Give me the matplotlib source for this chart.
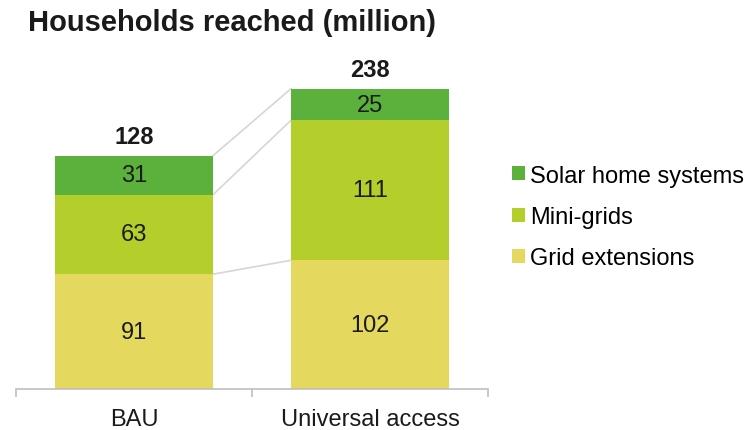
import numpy as np
import matplotlib.pyplot as plt

plt.rcParams['font.family'] = ['Liberation Sans', 'DejaVu Sans']

scenarios = ['BAU', 'Universal access']
series = ['Grid extensions', 'Mini-grids', 'Solar home systems']
grid_ext = [91, 102]
mini_grids = [63, 111]
solar_home = [31, 25]
totals = ['128', '238']
colors = ['#E4D85E', '#B4CF2B', '#5BB13C']

fig = plt.figure(figsize=(7.51, 4.31), dpi=100)
ax = fig.add_axes([16 / 751, 41 / 431, 472 / 751, 328 / 431])

x = np.arange(len(scenarios))
width = 0.67
bottom = np.zeros(len(scenarios))
tops = [bottom.copy()]
bars = []
for name, vals, c in zip(series, [grid_ext, mini_grids, solar_home], colors):
    b = ax.bar(x, vals, width, bottom=bottom, color=c, label=name)
    bars.append(b)
    for xi, v, b0 in zip(x, vals, bottom):
        ax.text(xi, b0 + v / 2, str(v), ha='center', va='center',
                fontsize=17, color='#1a1a1a')
    bottom = bottom + np.array(vals)
    tops.append(bottom.copy())

# connector lines between the segment boundaries of the two bars
for lvl in tops[1:]:
    ax.plot([x[0] + width / 2, x[1] - width / 2], [lvl[0], lvl[1]],
            color='#D6D6D6', lw=1.2, zorder=0)

for xi, top, t in zip(x, bottom, totals):
    ax.text(xi, top + 6, t, ha='center', va='bottom', fontsize=17,
            fontweight='bold', color='#1a1a1a')

ax.set_xlim(-0.5, 1.5)
ax.set_ylim(0, 260)
ax.set_yticks([])
ax.set_xticks(x)
ax.set_xticklabels(scenarios, fontsize=17, color='#1a1a1a')
ax.set_xticks([-0.5, 0.5, 1.5], minor=True)
ax.tick_params(axis='x', which='major', length=0, pad=14)
ax.tick_params(axis='x', which='minor', length=6, color='#BFBFBF', width=1.2)
for s in ['top', 'right', 'left']:
    ax.spines[s].set_visible(False)
ax.spines['bottom'].set_color('#BFBFBF')
ax.spines['bottom'].set_linewidth(1.2)

fig.text(28 / 751, 1 - 23 / 431, 'Households reached (million)', fontsize=21,
         fontweight='bold', va='center', ha='left', color='#1a1a1a')

handles = bars[::-1]
labels = series[::-1]
fig.legend(handles, labels, loc='center left', bbox_to_anchor=(503 / 751, 1 - 218 / 431),
           frameon=False, fontsize=17, handlelength=0.55, handleheight=0.55,
           handletextpad=0.2, labelspacing=0.82, borderaxespad=0)

fig.savefig('out.png', dpi=100)
